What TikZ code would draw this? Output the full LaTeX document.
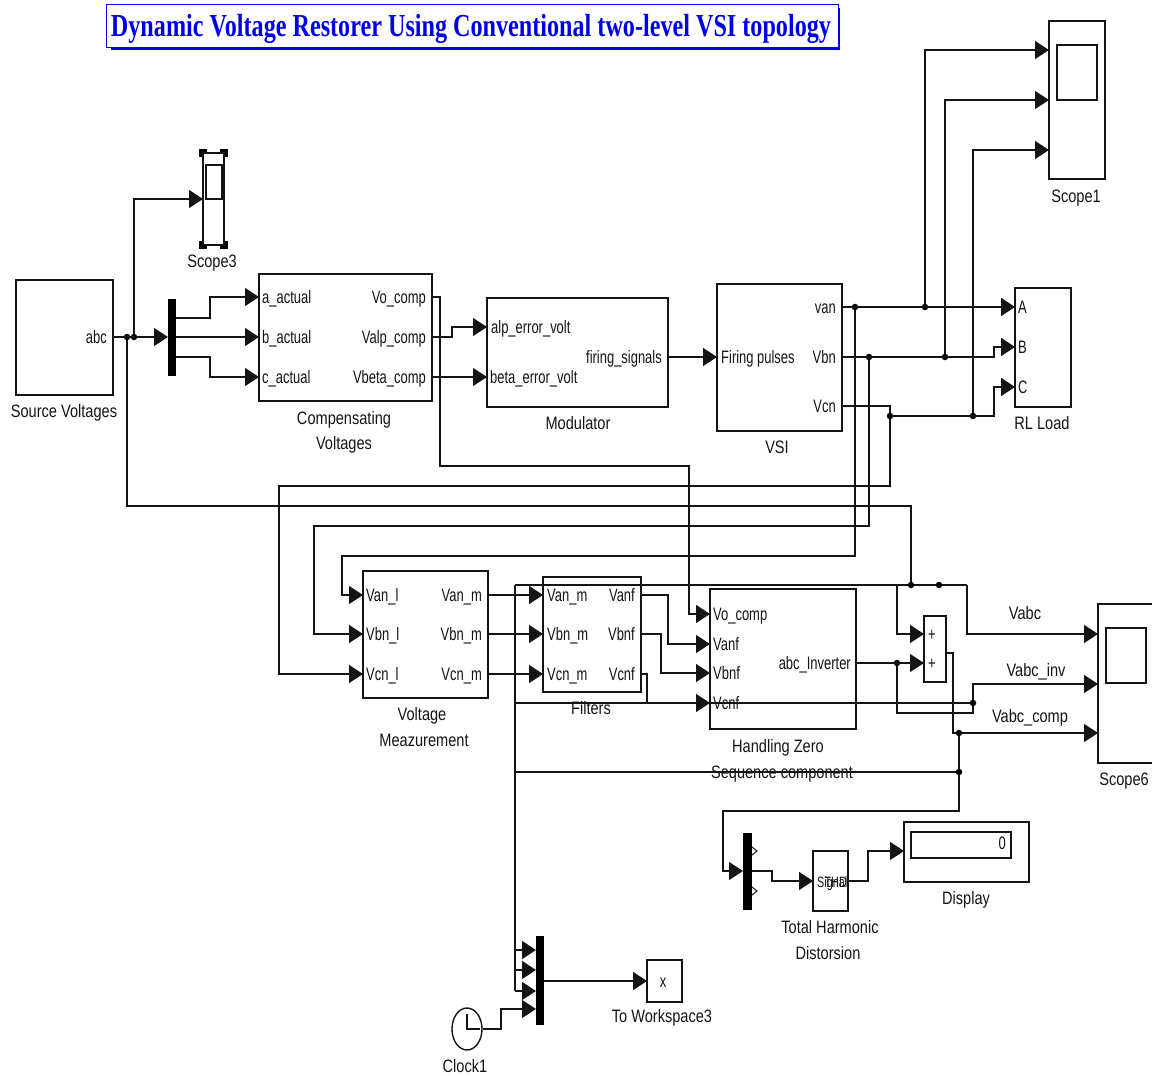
\documentclass[tikz,border=0pt]{standalone}
\usepackage{fontspec}
\usepackage{xcolor}
\usetikzlibrary{arrows.meta,shapes.geometric}
\newfontfamily\portfont[FakeStretch=0.72]{Liberation Sans}
\newfontfamily\namefont[FakeStretch=0.81]{Liberation Sans}
\newfontfamily\titlefont[FakeStretch=0.755]{Liberation Serif}
\definecolor{ink}{HTML}{141414}
\definecolor{titleblue}{HTML}{0000E6}
\tikzset{
  blockbox/.style={draw=ink,line width=1.4pt,fill=white,inner sep=0pt,outer sep=0pt,anchor=north west},
  barbox/.style={fill=black,inner sep=0pt,outer sep=0pt,anchor=north west},
  wire/.style={ink,line width=1.5pt},
  sig/.style={wire,-{Triangle[length=14pt,width=18pt]}},
  jn/.style={circle,fill=black,inner sep=0pt,minimum size=6.5pt},
  port/.style={font=\portfont\fontsize{18}{20}\selectfont,text=ink,inner sep=0pt,text height=14pt,text depth=2pt},
  portin/.style={port,anchor=west},
  portout/.style={port,anchor=east},
  bname/.style={font=\namefont\fontsize{18}{20}\selectfont,text=ink,inner sep=0pt,text height=14pt,text depth=2pt}
}
\begin{document}
\begin{tikzpicture}[x=1pt,y=-1pt]
\useasboundingbox (0,0) rectangle (1152,1076);
\clip (0,0) rectangle (1152,1076);
% title
\fill[titleblue] (111,8) rectangle (840,50);
\node[draw=titleblue,line width=1.2pt,fill=white,anchor=north west,inner sep=0pt,minimum width=732pt,minimum height=43pt] (titlebox) at (106,4) {};
\node[font=\titlefont\bfseries\fontsize{32}{36}\selectfont,text=titleblue,inner sep=0pt,anchor=base] (title) at (471,36) {Dynamic Voltage Restorer Using Conventional two-level VSI topology};
% blocks
\node[blockbox,minimum width=97pt,minimum height=115pt] (source) at (16,280) {};
\node[blockbox,minimum width=173pt,minimum height=127pt] (comp) at (259,274) {};
\node[blockbox,minimum width=181pt,minimum height=109pt] (modul) at (487,298) {};
\node[blockbox,minimum width=125pt,minimum height=147pt] (vsi) at (717,284) {};
\node[blockbox,minimum width=56pt,minimum height=119pt] (load) at (1015,288) {};
\node[blockbox,minimum width=125pt,minimum height=127pt] (meas) at (363,571) {};
\node[blockbox,minimum width=98pt,minimum height=115pt] (filt) at (543,577) {};
\node[blockbox,minimum width=146pt,minimum height=140pt] (zero) at (710,589) {};
\node[blockbox,minimum width=22pt,minimum height=66pt] (sum) at (924,616) {};
\node[blockbox,minimum width=35pt,minimum height=60pt] (thd) at (813,851) {};
\node[blockbox,minimum width=125pt,minimum height=60pt] (disp) at (904,822) {};
\node[blockbox,minimum width=100pt,minimum height=26pt] (dispwin) at (911,832) {};
\node[blockbox,minimum width=35pt,minimum height=42pt] (wksp) at (647,960) {};
\node[draw=ink,line width=1.4pt,fill=white,ellipse,inner sep=0pt,minimum width=30pt,minimum height=42pt] (clock) at (467,1029) {};
% scopes
\foreach \hx/\hy in {203/153,224/153,203/245,224/245} {
  \fill[black] (\hx-4,\hy-4) rectangle (\hx+4,\hy+4);
}
\node[blockbox,minimum width=21pt,minimum height=92pt] (scopeC) at (203,153) {};
\node[blockbox,minimum width=16pt,minimum height=34pt] (scopeCwin) at (206,165) {};
\node[blockbox,minimum width=56pt,minimum height=158pt] (scopeA) at (1049,21) {};
\node[blockbox,minimum width=40pt,minimum height=55pt] (scopeAwin) at (1057,45) {};
\node[blockbox,minimum width=70pt,minimum height=159pt] (scopeB) at (1098,604) {};
\node[blockbox,minimum width=40pt,minimum height=55pt] (scopeBwin) at (1106,628) {};
% mux bars
\node[barbox,minimum width=8pt,minimum height=77pt] (demux) at (168,299) {};
\node[barbox,minimum width=9pt,minimum height=77pt] (muxthd) at (743,833) {};
\node[barbox,minimum width=8pt,minimum height=89pt] (muxout) at (536,936) {};
\foreach \py in {851,891} {
  \draw[ink,line width=1pt] (752,\py-4) -- (757,\py) -- (752,\py+4);
}
% port labels
\node[portout] (abc) at (107,337) {abc};
\node[portin] (aact) at (262,297) {a\_actual};
\node[portin] (bact) at (262,337) {b\_actual};
\node[portin] (cact) at (262,377) {c\_actual};
\node[portout] (vocomp) at (426,297) {Vo\_comp};
\node[portout] (valp) at (426,337) {Valp\_comp};
\node[portout] (vbeta) at (426,377) {Vbeta\_comp};
\node[portin] (alperr) at (491,327) {alp\_error\_volt};
\node[portin] (betaerr) at (490,377) {beta\_error\_volt};
\node[portout] (firsig) at (662,357) {firing\_signals};
\node[portin] (firpul) at (721,357) {Firing pulses};
\node[portout] (van) at (836,307) {van};
\node[portout] (vbn) at (836,357) {Vbn};
\node[portout] (vcn) at (836,406) {Vcn};
\node[portin] (la) at (1018,307) {A};
\node[portin] (lb) at (1018,347) {B};
\node[portin] (lc) at (1018,387) {C};
\node[portin] (vanl) at (366,595) {Van\_l};
\node[portin] (vbnl) at (366,634) {Vbn\_l};
\node[portin] (vcnl) at (366,674) {Vcn\_l};
\node[portout] (vanm) at (482,595) {Van\_m};
\node[portout] (vbnm) at (482,634) {Vbn\_m};
\node[portout] (vcnm) at (482,674) {Vcn\_m};
\node[portin] (fvanm) at (547,595) {Van\_m};
\node[portin] (fvbnm) at (547,634) {Vbn\_m};
\node[portin] (fvcnm) at (547,674) {Vcn\_m};
\node[portout] (vanf) at (635,595) {Vanf};
\node[portout] (vbnf) at (635,634) {Vbnf};
\node[portout] (vcnf) at (635,674) {Vcnf};
\node[portin] (zvo) at (713,614) {Vo\_comp};
\node[portin] (zvan) at (713,644) {Vanf};
\node[portin] (zvbn) at (713,673) {Vbnf};
\node[portin] (zvcn) at (713,703) {Vcnf};
\node[portout] (abcinv) at (851,663) {abc\_Inverter};
\node[portin] (plusa) at (928,634) {+};
\node[portin] (plusb) at (928,663) {+};
\node[portout,font=\portfont\fontsize{15}{18}\selectfont] (thdtxt) at (847,881) {THD};
\node[portin,font=\portfont\fontsize{15}{18}\selectfont] (sigtxt) at (817,881) {Signal};
\node[portout] (dispval) at (1006,843) {0};
\node[port] (wkspx) at (663,981) {x};
% block names
\node[bname] (nsource) at (64,411) {Source Voltages};
\node[bname] (nscopec) at (212,261) {Scope3};
\node[bname] (ncompa) at (344,418) {Compensating};
\node[bname] (ncompb) at (344,443) {Voltages};
\node[bname] (nmodul) at (578,423) {Modulator};
\node[bname] (nvsi) at (777,447) {VSI};
\node[bname] (nload) at (1042,423) {RL Load};
\node[bname] (nscopea) at (1076,196) {Scope1};
\node[bname] (nmeasa) at (422,714) {Voltage};
\node[bname] (nmeasb) at (424,740) {Meazurement};
\node[bname] (nfilt) at (591,708) {Filters};
\node[bname] (nzeroa) at (778,746) {Handling Zero};
\node[bname] (nzerob) at (782,772) {Sequence component};
\node[bname] (nvabc) at (1025,613) {Vabc};
\node[bname] (nvinv) at (1036,670) {Vabc\_inv};
\node[bname] (nvcomp) at (1030,716) {Vabc\_comp};
\node[bname] (nscopeb) at (1124,779) {Scope6};
\node[bname] (ndisp) at (966,898) {Display};
\node[bname] (nthda) at (830,927) {Total Harmonic};
\node[bname] (nthdb) at (828,953) {Distorsion};
\node[bname] (nwksp) at (662,1016) {To Workspace3};
\node[bname] (nclock) at (465,1066) {Clock1};
% junctions
\node[jn] (ja) at (127,337) {};
\node[jn] (jb) at (134,337) {};
\node[jn] (jvan) at (855,307) {};
\node[jn] (jscan) at (925,307) {};
\node[jn] (jvbn) at (869,357) {};
\node[jn] (jscbn) at (945,357) {};
\node[jn] (jvcn) at (890,416) {};
\node[jn] (jsccn) at (973,416) {};
\node[jn] (jtop) at (911,585) {};
\node[jn] (jtopb) at (939,585) {};
\node[jn] (jinv) at (897,663) {};
\node[jn] (jback) at (973,703) {};
\node[jn] (jcomp) at (959,733) {};
\node[jn] (jlow) at (959,772) {};
% source side
\draw[sig] (abc -| source.east) -- (abc -| demux.west);
\draw[sig] (jb) |- (scopeC.west |- scopeCwin.south);
\draw[wire] (ja) |- (911,506) -- (jtop);
\draw[sig] (demux.east |- 0,318) -- (210,318) |- (aact -| comp.west);
\draw[sig] (demux.east |- bact) -- (bact -| comp.west);
\draw[sig] (demux.east |- 0,357) -- (210,357) |- (cact -| comp.west);
% compensating to modulator and inverter
\draw[sig] (vocomp -| comp.east) -- (440,297) |- (689,466) |- (zvo -| zero.west);
\draw[sig] (valp -| comp.east) -- (452,337) |- (alperr -| modul.west);
\draw[sig] (vbeta -| comp.east) -- (vbeta -| modul.west);
\draw[sig] (firsig -| modul.east) -- (firpul -| vsi.west);
% inverter to load
\draw[sig] (van -| vsi.east) -- (la -| load.west);
\draw[sig] (vbn -| vsi.east) -- (994,357) |- (lb -| load.west);
\draw[wire] (vcn -| vsi.east) -- (890,406) -- (jvcn);
\draw[sig] (jvcn) -- (994,416) |- (lc -| load.west);
% inverter to scope1
\draw[sig] (jscan) |- (scopeA.west |- 0,50);
\draw[sig] (jscbn) |- (scopeA.west |- 0,100);
\draw[sig] (jsccn) |- (scopeA.west |- 0,150);
% feedback to measurement
\draw[sig] (jvcn) |- (279,486) |- (vcnl -| meas.west);
\draw[sig] (jvbn) |- (314,526) |- (vbnl -| meas.west);
\draw[sig] (jvan) |- (342,556) |- (vanl -| meas.west);
% measurement to filters
\draw[sig] (vanm -| meas.east) -- (fvanm -| filt.west);
\draw[sig] (vbnm -| meas.east) -- (fvbnm -| filt.west);
\draw[sig] (vcnm -| meas.east) -- (fvcnm -| filt.west);
% filters to zero sequence
\draw[sig] (vanf -| filt.east) -- (668,595) |- (zvan -| zero.west);
\draw[sig] (vbnf -| filt.east) -- (661,634) |- (zvbn -| zero.west);
\draw[wire] (vcnf -| filt.east) -- (647,674) -- (647,703);
\draw[sig] (515,703) -- (zvcn -| zero.west);
\draw[wire] (515,703) -- (jback);
% sum and scope6
\draw[sig] (abcinv -| zero.east) -- (plusb -| sum.west);
\draw[wire] (515,585) -- (jtop) -- (jtopb) -- (967,585);
\draw[sig] (967,585) |- (scopeB.west |- 0,634);
\draw[sig] (897,585) |- (plusa -| sum.west);
\draw[sig] (jback) |- (scopeB.west |- 0,684);
\draw[wire] (jback) |- (897,713) -- (jinv);
\draw[wire] (sum.east |- 0,653) -- (953,653) |- (jcomp);
\draw[sig] (jcomp) -- (scopeB.west |- jcomp);
\draw[wire] (jcomp) -- (jlow);
\draw[wire] (515,772) -- (jlow);
% thd path
\draw[sig] (jlow) |- (723,811) |- (muxthd.west |- 0,871);
\draw[sig] (muxthd.east |- 0,871) -- (772,871) |- (thd.west);
\draw[sig] (thd.east) -- (868,881) |- (disp.west |- 0,851);
% workspace path
\draw[wire] (515,585) -- (515,991);
\foreach \py in {950,970,991} {
  \draw[sig] (515,\py) -- (muxout.west |- 0,\py);
}
\draw[sig] (clock.east) -- (501,1029) |- (muxout.west |- 0,1009);
\draw[sig] (muxout.east |- wksp.west) -- (wksp.west);
% clock hands
\draw[ink,line width=1.2pt] (467,1014) -- (clock.center) -- (480,1029);
\end{tikzpicture}
\end{document}
